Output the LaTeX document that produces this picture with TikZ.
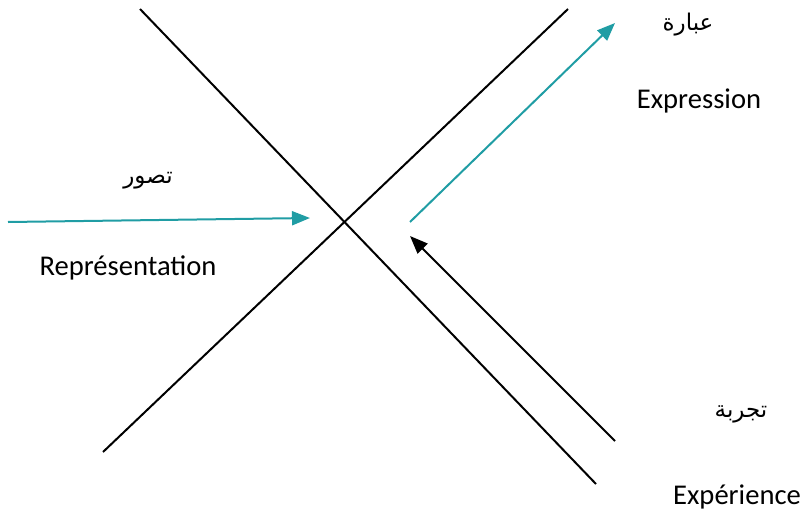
\documentclass[tikz,border=0pt]{standalone}
\usepackage{fontspec}
\setmainfont{Carlito}
\newfontfamily\arabicfont[Script=Arabic]{DejaVu Sans}
\TeXXeTstate=1
\usetikzlibrary{arrows.meta}
\definecolor{tealc}{RGB}{32,157,164}
\tikzset{
  axis/.style={black, line width=1pt},
  tarrow/.style={tealc, line width=1pt, -{Triangle[length=9pt,width=7pt]}},
  barrow/.style={black, line width=1pt, -{Triangle[length=9pt,width=7pt]}},
  lat/.style={font=\fontsize{14.3}{16}\selectfont, inner sep=0pt},
  arab/.style={font=\arabicfont\fontsize{11.5}{14}\selectfont, inner sep=0pt}
}
\begin{document}
\begin{tikzpicture}[x=0.5pt,y=-0.5pt]
\useasboundingbox (0,0) rectangle (808,514);
% crossing lines
\coordinate (l1a) at (140,9);
\coordinate (l1b) at (596,484);
\coordinate (l2a) at (103,452);
\coordinate (l2b) at (568,9);
\draw[axis] (l1a) -- (l1b);
\draw[axis] (l2a) -- (l2b);
% arrows
\coordinate (r0) at (8,222);
\coordinate (r1) at (310,218);
\coordinate (e0) at (410,222);
\coordinate (e1) at (615,23);
\coordinate (x0) at (615,441);
\coordinate (x1) at (410,236);
\draw[tarrow] (r0) -- (r1);
\draw[tarrow] (e0) -- (e1);
\draw[barrow] (x0) -- (x1);
% labels
\node[arab] (ibara) at (688,25) {\beginR عبارة\endR};
\node[lat] (expr) at (699,101) {Expression};
\node[arab] (tasawwur) at (148,181) {\beginR تصور\endR};
\node[lat] (repr) at (128,268) {Représentation};
\node[arab] (tajriba) at (741,414) {\beginR تجربة\endR};
\node[lat] (exper) at (737,497) {Expérience};
\end{tikzpicture}
\end{document}
